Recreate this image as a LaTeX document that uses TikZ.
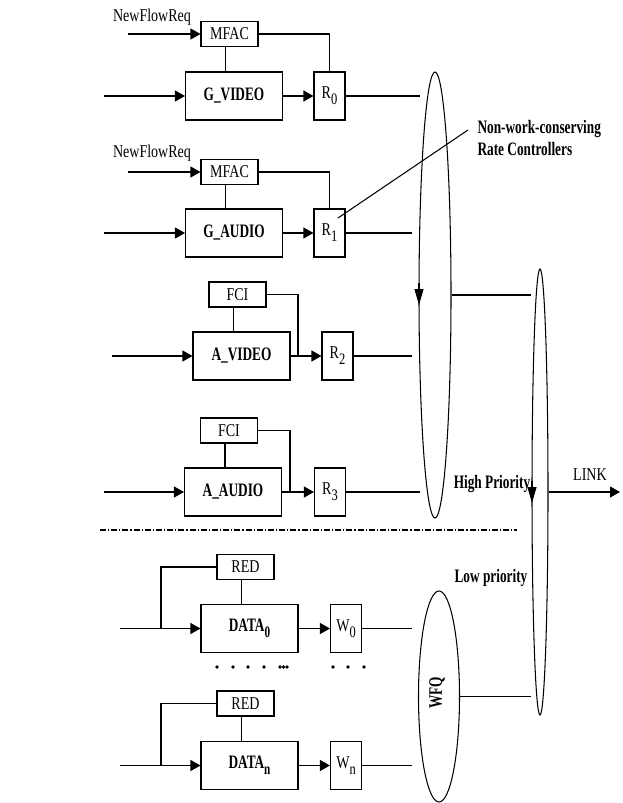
\documentclass[tikz,border=0pt]{standalone}
\usepackage{fontspec}
\setmainfont[FakeStretch=0.78]{Liberation Serif}
\newfontfamily\bfam[FakeStretch=0.70]{Liberation Serif}
\usetikzlibrary{arrows.meta,shapes.geometric}
\newcommand\mysub[1]{\raisebox{-6pt}{\fontsize{16}{16}\selectfont #1}}
\begin{document}
\begin{tikzpicture}[x=1pt,y=-1pt, line width=1.05pt,
 every node/.style={inner sep=0pt},
 lbl/.style={font=\fontsize{18}{21}\selectfont},
 blbl/.style={font=\fontsize{19}{22}\bfam\bfseries},
 box/.style={draw, font=\fontsize{18}{21}\selectfont},
 smallbox/.style={box, minimum width=57pt, minimum height=25pt},
 bigbox/.style={box, minimum width=97pt, minimum height=48pt, font=\fontsize{19}{22}\bfam\bfseries},
 ratebox/.style={box, minimum width=31pt, minimum height=48pt},
 arr/.style={-{Triangle[length=10pt,width=11pt]}},
 earr/.style={-{Triangle[length=16pt,width=9pt]}},
 oval/.style={draw, ellipse, inner sep=0pt},
 dashdot/.style={dash pattern=on 6pt off 2pt on 1.2pt off 2pt},
]
\useasboundingbox (0,0) rectangle (623,803);

% ---------- section 1: G_VIDEO ----------
\node[lbl] (nfr1) at (152,17) {NewFlowReq};
\node[smallbox] (mfac1) at (229.5,34) {MFAC};
\node[bigbox] (gv) at (234,96) {G\_VIDEO};
\node[ratebox] (r0) at (329.5,96) {R\mysub{0}};
\coordinate (nfr1in) at (128,34);
\coordinate (in1) at (104,96);
\coordinate (out1) at (420,96);
\draw[arr] (nfr1in) -- (mfac1.west);
\draw[arr] (in1) -- (gv.west);
\draw[arr] (gv.east) -- (r0.west);
\draw (mfac1.east) -| (r0.north);
\draw ([xshift=-4pt]mfac1.south) -- ([xshift=-4pt]mfac1.south |- gv.north);
\draw (r0.east) -- (out1);

% ---------- section 2: G_AUDIO ----------
\node[lbl] (nfr2) at (152,153) {NewFlowReq};
\node[smallbox] (mfac2) at (229.5,172) {MFAC};
\node[bigbox] (ga) at (234,233) {G\_AUDIO};
\node[ratebox] (r1) at (329.5,233) {R\mysub{1}};
\coordinate (nfr2in) at (128,172);
\coordinate (in2) at (104,233);
\coordinate (out2) at (412,233);
\draw[arr] (nfr2in) -- (mfac2.west);
\draw[arr] (in2) -- (ga.west);
\draw[arr] (ga.east) -- (r1.west);
\draw (mfac2.east) -| (r1.north);
\draw ([xshift=-4pt]mfac2.south) -- ([xshift=-4pt]mfac2.south |- ga.north);
\draw (r1.east) -- (out2);

% ---------- section 3: A_VIDEO ----------
\node[smallbox] (fci3) at (237.5,294.5) {FCI};
\node[bigbox] (av) at (241.5,356) {A\_VIDEO};
\node[ratebox] (r2) at (337.5,356) {R\mysub{2}};
\coordinate (in3) at (112,356);
\coordinate (j3) at (298,356);
\coordinate (out3) at (412,356);
\draw[arr] (in3) -- (av.west);
\draw[arr] (av.east) -- (r2.west);
\draw (fci3.east) -| (j3);
\draw ([xshift=-4pt]fci3.south) -- ([xshift=-4pt]fci3.south |- av.north);
\draw (r2.east) -- (out3);

% ---------- section 4: A_AUDIO ----------
\node[smallbox] (fci4) at (229,430.5) {FCI};
\node[bigbox] (aa) at (233,492) {A\_AUDIO};
\node[ratebox] (r3) at (330,492) {R\mysub{3}};
\coordinate (in4) at (104,492);
\coordinate (j4) at (290,492);
\coordinate (out4) at (420,492);
\draw[arr] (in4) -- (aa.west);
\draw[arr] (aa.east) -- (r3.west);
\draw (fci4.east) -| (j4);
\draw ([xshift=-4pt]fci4.south) -- ([xshift=-4pt]fci4.south |- aa.north);
\draw (r3.east) -- (out4);

% ---------- separator ----------
\coordinate (sepL) at (100,530);
\coordinate (sepR) at (517,530);
\draw[dashdot] (sepL) -- (sepR);

% ---------- section 5: DATA_0 ----------
\node[smallbox] (red0) at (245.5,567) {RED};
\node[bigbox] (d0) at (249.5,628.5) {DATA\mysub{0}};
\node[ratebox] (w0) at (346,628.5) {W\mysub{0}};
\coordinate (in5) at (120,628.5);
\coordinate (j5) at (161,628.5);
\coordinate (out5) at (412,628.5);
\draw[arr] (in5) -- (d0.west);
\draw (j5) |- (red0.west);
\draw[arr] (d0.east) -- (w0.west);
\draw ([xshift=-4pt]red0.south) -- ([xshift=-4pt]red0.south |- d0.north);
\draw (w0.east) -- (out5);

% dots
\foreach \xx in {217,233,248,264,280,283.5,287,333,348,364}
  \fill (\xx,667) circle[radius=1.8];

% ---------- section 6: DATA_n ----------
\node[smallbox] (redn) at (245.5,703.5) {RED};
\node[bigbox] (dn) at (249.5,765.5) {DATA\mysub{n}};
\node[ratebox] (wn) at (346,765.5) {W\mysub{n}};
\coordinate (in6) at (120,765.5);
\coordinate (j6) at (161,765.5);
\coordinate (out6) at (412,765.5);
\draw[arr] (in6) -- (dn.west);
\draw (j6) |- (redn.west);
\draw[arr] (dn.east) -- (wn.west);
\draw ([xshift=-4pt]redn.south) -- ([xshift=-4pt]redn.south |- dn.north);
\draw (wn.east) -- (out6);

% ---------- schedulers ----------
\node[oval, minimum width=32pt, minimum height=446pt] (e1) at (435,295) {};
\node[oval, minimum width=16pt, minimum height=446pt] (e2) at (540,492) {};
\node[oval, minimum width=41pt, minimum height=211pt] (wfq) at (439,696.5) {};
\node[blbl, rotate=90] (wfqt) at (437,693) {WFQ};
\coordinate (e1a) at (419,283);
\coordinate (e1b) at (419,305);
\draw[earr] (e1a) -- (e1b);
\coordinate (e2a) at (532,481);
\coordinate (e2b) at (532,503);
\draw[earr] (e2a) -- (e2b);
\draw (e1.east) -- (e1.east -| e2.west);
\draw (wfq.east) -- (wfq.east -| e2.west);
\coordinate (linkend) at (620,492);
\draw[arr] (e2.east) -- (linkend);

% ---------- labels ----------
\node[lbl] (link) at (590,475) {LINK};
\node[blbl] (hp) at (492,484) {High Priority};
\node[blbl] (lp) at (491,578) {Low priority};
\node[blbl, align=left, anchor=west] (nwc) at (477,138) {Non-work-conserving\\Rate Controllers};
\coordinate (lead1) at (338,218);
\coordinate (lead2) at (468,130);
\draw (lead1) -- (lead2);
\end{tikzpicture}
\end{document}
